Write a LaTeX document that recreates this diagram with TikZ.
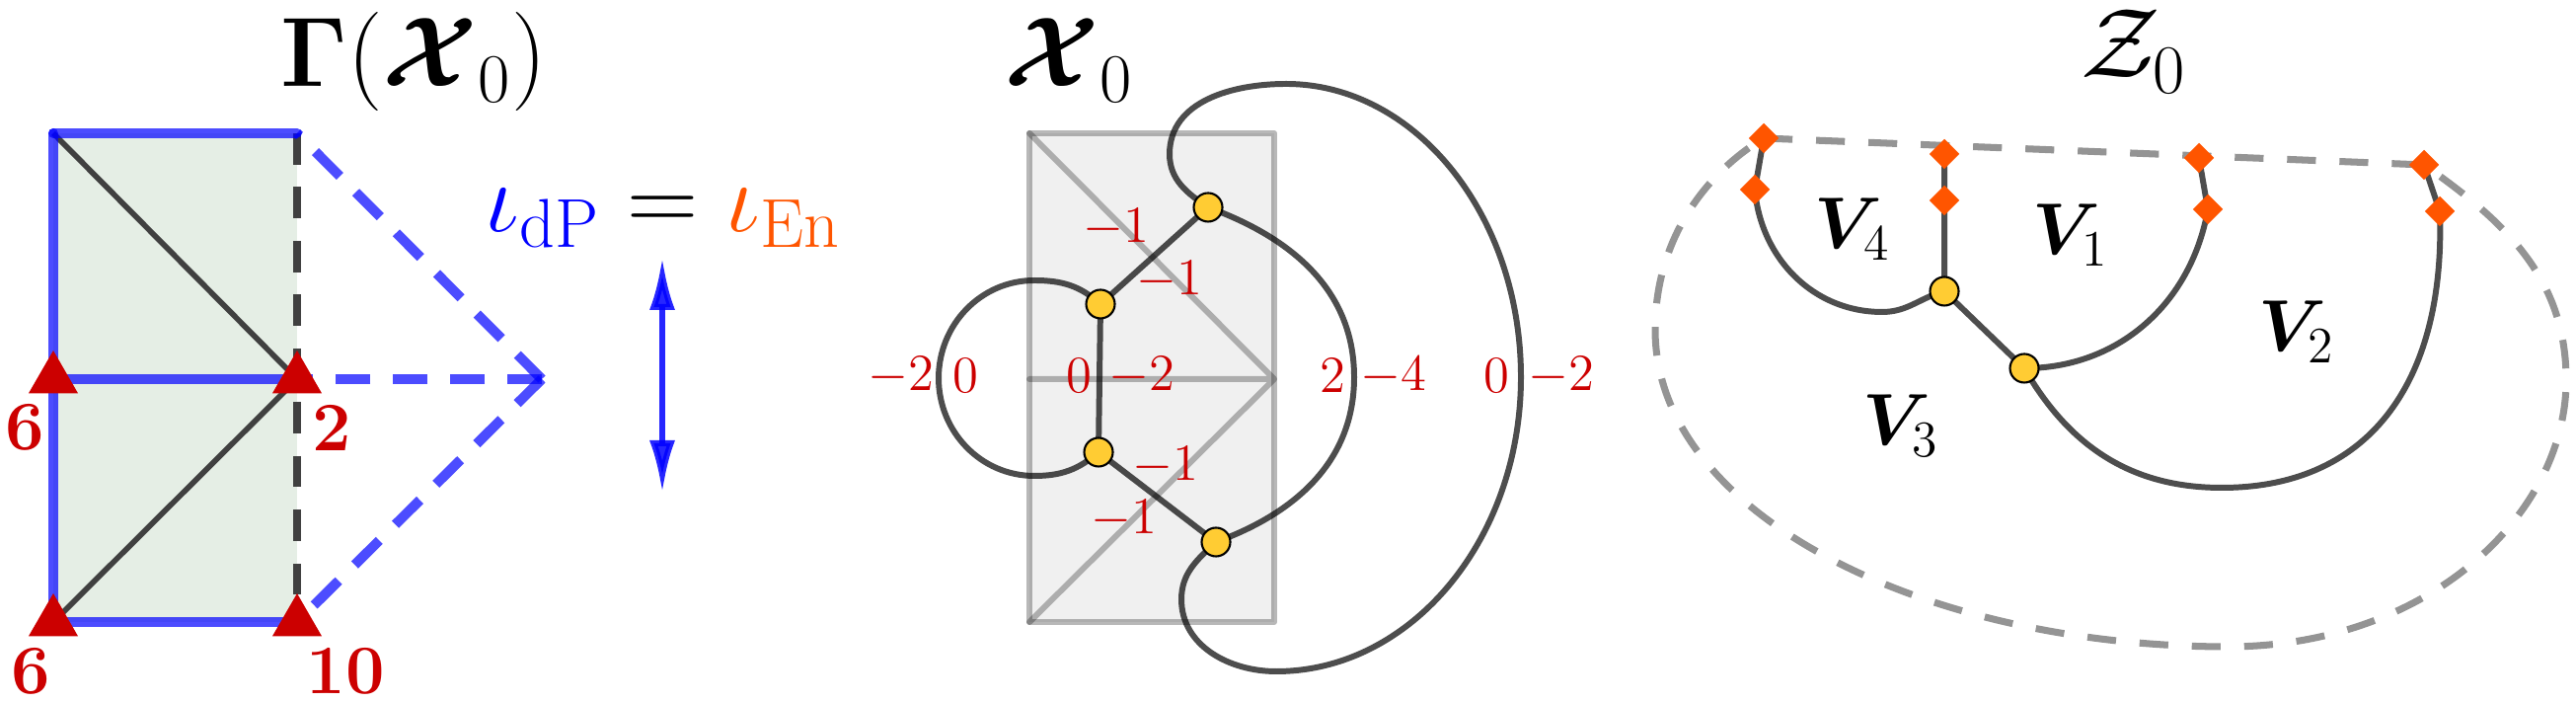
\RequirePackage{fix-cm}
\documentclass[tikz,border=0pt]{standalone}
\usepackage{amsmath,amssymb,bm}
\usepackage{tikz}
\usetikzlibrary{arrows.meta,positioning,calc,shapes.geometric}
\definecolor{mred}{RGB}{204,0,0}
\definecolor{morange}{RGB}{255,85,0}
\definecolor{myellow}{RGB}{255,204,51}
\definecolor{mgreen}{RGB}{229,238,229}
\definecolor{mcurve}{RGB}{77,77,77}
\tikzset{
  >={Latex[length=5.3mm,width=2.6mm]},
  title/.style={font=\fontsize{28.5}{32}\selectfont,anchor=base,inner sep=0pt},
  bline/.style={blue,opacity=.7,line width=.1cm,line cap=round},
  dedge/.style={blue,opacity=.7,line width=.1cm,dash pattern=on 10pt off 6.5pt},
  tri/.style={regular polygon,regular polygon sides=3,fill=mred,minimum size=5.8mm,inner sep=0pt},
  mult/.style={text=mred,font=\bfseries\fontsize{20}{24}\selectfont,inner sep=0pt},
  dot/.style={circle,draw=black,fill=myellow,line width=.6pt,minimum size=2.9mm,inner sep=0pt},
  gem/.style={diamond,fill=morange,minimum size=3.1mm,inner sep=0pt},
  arcline/.style={draw=mcurve,line width=1.7pt},
  grid/.style={draw=black,draw opacity=.28,line width=.06cm,line cap=round,line join=round},
  rim/.style={draw=black!42,line width=2pt,dash pattern=on 8.3pt off 6.8pt},
  num/.style={text=mred,font=\fontsize{15}{18}\selectfont,inner sep=0pt},
  reg/.style={font=\fontsize{21}{24}\selectfont,anchor=base,inner sep=0pt},
}
\begin{document}
\begin{tikzpicture}
\useasboundingbox (0,0) rectangle (26.1,7.11);
% left panel
\coordinate (tl) at (0.54,5.76);
\coordinate (tr) at (3.01,5.76);
\coordinate (ml) at (0.54,3.27);
\coordinate (mr) at (3.01,3.27);
\coordinate (bl) at (0.54,0.81);
\coordinate (br) at (3.01,0.81);
\coordinate (apex) at (5.49,3.27);
\fill[mgreen] (tl) rectangle (br);
\draw[black!75,line width=1.6pt] (tl) -- (mr) -- (bl);
\draw[black!75,line width=2pt,dash pattern=on 9pt off 6.5pt] (tr) -- (br);
\foreach \a/\b in {tl/tr,tl/ml,ml/bl,ml/mr,bl/br}
  \draw[bline] (\a) -- (\b);
\foreach \b in {tr,mr,br}
  \draw[dedge] (apex) -- (\b);
\foreach \p in {ml,mr,bl,br}
  \node[tri] (t\p) at (\p) {};
\node[mult] (w1) at (0.25,2.78) {6};
\node[mult] (w2) at (3.36,2.78) {2};
\node[mult] (w3) at (0.31,0.31) {6};
\node[mult] (w4) at (3.50,0.31) {10};
\node[title] (gtitle) at (4.19,6.23) {$\bm{\Gamma}(\bm{\mathcal{X}}_0)$};
\node[title] (iota) at (6.72,4.76) {$\color{blue}\iota_{\mathrm{dP}}\color{black}=\color{morange}\iota_{\mathrm{En}}$};
\coordinate (atop) at (6.71,4.50);
\coordinate (abot) at (6.71,2.12);
\draw[<->,blue,opacity=.85,line width=.06cm] (atop) -- (abot);
% middle panel
\coordinate (gtl) at (10.43,5.76);
\coordinate (gml) at (10.43,3.27);
\coordinate (gmr) at (12.91,3.27);
\coordinate (gbl) at (10.43,0.81);
\coordinate (gbr) at (12.91,0.81);
\coordinate (A) at (12.24,5.01);
\coordinate (B) at (11.15,4.03);
\coordinate (C) at (11.13,2.53);
\coordinate (D) at (12.32,1.62);
\draw[arcline] (A) -- (B) -- (C) -- (D);
\draw[arcline] (B) to[out=138,in=0] (10.48,4.27) to[out=180,in=90] (9.51,3.28)
  to[out=-90,in=180] (10.48,2.29) to[out=0,in=221] (C);
\draw[arcline] (A) to[out=-20,in=90] (13.72,3.29) to[out=-90,in=20] (D);
\draw[arcline] (A) to[out=146,in=-90] (11.85,5.55) to[out=90,in=180] (13.03,6.26)
  .. controls (14.34,6.26) and (15.41,4.93) .. (15.41,3.29)
  .. controls (15.41,1.65) and (14.30,0.31) .. (12.93,0.31)
  to[out=180,in=-90] (11.97,1.04) to[out=90,in=223] (D);
\draw[grid,fill=black,fill opacity=.06] (gtl) rectangle (gbr);
\draw[grid] (gtl) -- (gmr) -- (gbl) (gml) -- (gmr);
\foreach \n in {A,B,C,D}
  \node[dot] (dot\n) at (\n) {};
\node[num] (n1) at (9.13,3.30) {$-2$};
\node[num] (n2) at (9.78,3.30) {$0$};
\node[num] (n3) at (10.93,3.30) {$0$};
\node[num] (n4) at (11.57,3.30) {$-2$};
\node[num] (n5) at (13.50,3.30) {$2$};
\node[num] (n6) at (14.12,3.30) {$-4$};
\node[num] (n7) at (15.16,3.30) {$0$};
\node[num] (n8) at (15.82,3.30) {$-2$};
\node[num] (n9) at (11.31,4.80) {$-1$};
\node[num] (n10) at (11.85,4.27) {$-1$};
\node[num] (n11) at (11.81,2.39) {$-1$};
\node[num] (n12) at (11.39,1.85) {$-1$};
\node[title] (xtitle) at (10.83,6.23) {$\bm{\mathcal{X}}_0$};
% right panel
\coordinate (d1) at (17.87,5.71);
\coordinate (d2) at (17.78,5.19);
\coordinate (d3) at (19.70,5.55);
\coordinate (d4) at (19.70,5.08);
\coordinate (d5) at (22.28,5.51);
\coordinate (d6) at (22.37,4.99);
\coordinate (d7) at (24.56,5.44);
\coordinate (d8) at (24.72,4.97);
\coordinate (e1) at (19.70,4.16);
\coordinate (e2) at (20.51,3.38);
\draw[rim] (d1) -- (d7) to[out=-35,in=90] (26.00,3.26)
  .. controls (26.00,1.9) and (24.6,0.56) .. (22.57,0.56)
  .. controls (19.5,0.56) and (16.77,1.9) .. (16.77,3.77)
  .. controls (16.77,4.75) and (17.35,5.4) .. (d1);
\draw[arcline] (d1) -- (d2) to[out=-85,in=180] (19.07,3.95) to[out=0,in=195] (e1);
\draw[arcline] (d3) -- (d4) -- (e1) -- (e2);
\draw[arcline] (e2) to[out=0,in=-100] (d6) -- (d5);
\draw[arcline] (e2) to[out=-60,in=180] (22.51,2.17)
  .. controls (24.05,2.17) and (24.78,3.3) .. (d8) -- (d7);
\foreach \n in {d1,d2,d3,d4,d5,d6,d7,d8}
  \node[gem] (g\n) at (\n) {};
\foreach \n in {e1,e2}
  \node[dot] (dot\n) at (\n) {};
\node[reg] (v4) at (18.77,4.59) {$\bm{V}_4$};
\node[reg] (v1) at (20.98,4.53) {$\bm{V}_1$};
\node[reg] (v2) at (23.27,3.55) {$\bm{V}_2$};
\node[reg] (v3) at (19.26,2.60) {$\bm{V}_3$};
\node[title] (ztitle) at (21.62,6.32) {$\mathcal{Z}_0$};
\end{tikzpicture}
\end{document}
